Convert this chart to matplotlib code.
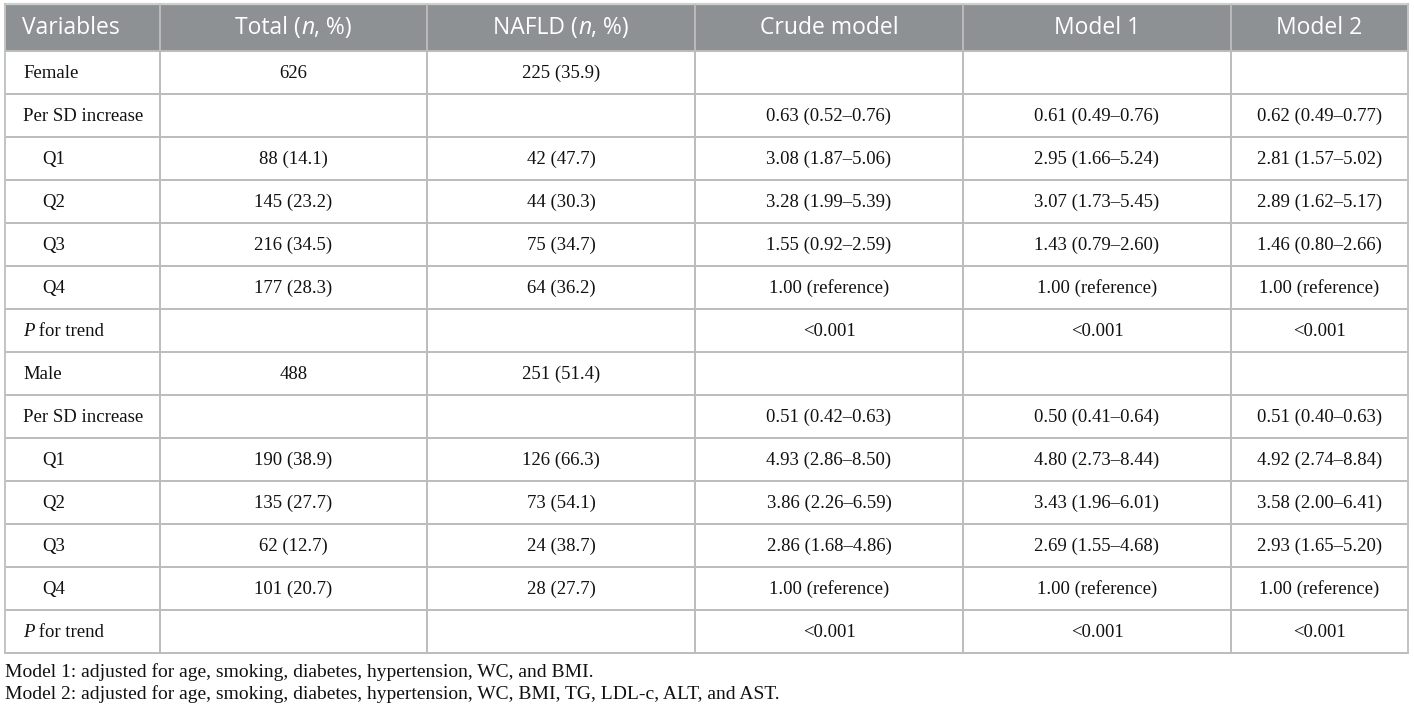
import matplotlib.pyplot as plt
from matplotlib.patches import Rectangle

# ---- table content ----
headers = [
    [("Variables", "normal")],
    [("Total (", "normal"), ("n", "italic"), (", %)", "normal")],
    [("NAFLD (", "normal"), ("n", "italic"), (", %)", "normal")],
    [("Crude model", "normal")],
    [("Model 1", "normal")],
    [("Model 2", "normal")],
]

variables = ["Female", "Per SD increase", "Q1", "Q2", "Q3", "Q4", "P for trend",
             "Male", "Per SD increase", "Q1", "Q2", "Q3", "Q4", "P for trend"]
total = ["626", "", "88 (14.1)", "145 (23.2)", "216 (34.5)", "177 (28.3)", "",
         "488", "", "190 (38.9)", "135 (27.7)", "62 (12.7)", "101 (20.7)", ""]
nafld = ["225 (35.9)", "", "42 (47.7)", "44 (30.3)", "75 (34.7)", "64 (36.2)", "",
         "251 (51.4)", "", "126 (66.3)", "73 (54.1)", "24 (38.7)", "28 (27.7)", ""]
crude = ["", "0.63 (0.52–0.76)", "3.08 (1.87–5.06)", "3.28 (1.99–5.39)",
         "1.55 (0.92–2.59)", "1.00 (reference)", "<0.001",
         "", "0.51 (0.42–0.63)", "4.93 (2.86–8.50)", "3.86 (2.26–6.59)",
         "2.86 (1.68–4.86)", "1.00 (reference)", "<0.001"]
model1 = ["", "0.61 (0.49–0.76)", "2.95 (1.66–5.24)", "3.07 (1.73–5.45)",
          "1.43 (0.79–2.60)", "1.00 (reference)", "<0.001",
          "", "0.50 (0.41–0.64)", "4.80 (2.73–8.44)", "3.43 (1.96–6.01)",
          "2.69 (1.55–4.68)", "1.00 (reference)", "<0.001"]
model2 = ["", "0.62 (0.49–0.77)", "2.81 (1.57–5.02)", "2.89 (1.62–5.17)",
          "1.46 (0.80–2.66)", "1.00 (reference)", "<0.001",
          "", "0.51 (0.40–0.63)", "4.92 (2.74–8.84)", "3.58 (2.00–6.41)",
          "2.93 (1.65–5.20)", "1.00 (reference)", "<0.001"]

footnotes = [
    "Model 1: adjusted for age, smoking, diabetes, hypertension, WC, and BMI.",
    "Model 2: adjusted for age, smoking, diabetes, hypertension, WC, BMI, TG, LDL-c, ALT, and AST.",
]

# ---- layout (pixel units) ----
W, H = 1414, 711
col_edges = [5, 160, 427, 695, 963, 1231, 1408]
head_top, head_bot = 4, 51
row_h = 43
n_rows = len(variables)
line_col = "#bcbcbc"
head_col = "#8e9194"
serif = ["Liberation Serif", "DejaVu Serif"]
sans = ["Open Sans", "DejaVu Sans"]
body_fs = 13.5
head_fs = 16.5
note_fs = 14

fig = plt.figure(figsize=(W / 100, H / 100), dpi=100)
ax = fig.add_axes([0, 0, 1, 1])
ax.set_xlim(0, W)
ax.set_ylim(H, 0)
ax.axis("off")
renderer = fig.canvas.get_renderer()


def draw_segments(x, y, segs, ha, fs, family, color, weight="normal"):
    items = []
    for s, style in segs:
        t = ax.text(0, y, s, fontsize=fs, family=family, fontstyle=style,
                    fontweight=weight, color=color, ha="left", va="center")
        w = t.get_window_extent(renderer).width
        items.append((t, w))
    total_w = sum(w for _, w in items)
    cur = x - total_w / 2 if ha == "center" else x
    for t, w in items:
        t.set_x(cur)
        cur += w


# header
ax.add_patch(Rectangle((col_edges[0], head_top), col_edges[-1] - col_edges[0],
                       head_bot - head_top, facecolor=head_col, edgecolor="none"))
ax.plot([col_edges[0], col_edges[-1]], [head_top, head_top], color="#c9d2ce", lw=1.6)
for j, segs in enumerate(headers):
    if j == 0:
        draw_segments(col_edges[0] + 17, (head_top + head_bot) / 2 + 1, segs, "left",
                      head_fs, sans, "white")
    else:
        cx = (col_edges[j] + col_edges[j + 1]) / 2
        draw_segments(cx, (head_top + head_bot) / 2 + 1, segs, "center",
                      head_fs, sans, "white")

# grid lines
bottom = head_bot + row_h * n_rows
for i in range(n_rows + 1):
    y = head_bot + row_h * i
    ax.plot([col_edges[0], col_edges[-1]], [y, y], color=line_col, lw=1.4)
for k, x in enumerate(col_edges):
    y0 = head_top if k in (0, len(col_edges) - 1) else head_top + 1
    c = line_col if 0 < k < len(col_edges) - 1 else "#c0c4c2"
    ax.plot([x, x], [y0, bottom], color=c, lw=1.4)

# body
columns = [total, nafld, crude, model1, model2]
for i, var in enumerate(variables):
    yc = head_bot + row_h * (i + 0.5) + 1
    if var.startswith("Q"):
        draw_segments(col_edges[0] + 37, yc, [(var, "normal")], "left", body_fs, serif, "#111111")
    elif var == "P for trend":
        draw_segments(col_edges[0] + 18, yc, [("P", "italic"), (" for trend", "normal")],
                      "left", body_fs, serif, "#111111")
    else:
        draw_segments(col_edges[0] + 18, yc, [(var, "normal")], "left", body_fs, serif, "#111111")
    for j, col in enumerate(columns):
        if col[i]:
            cx = (col_edges[j + 1] + col_edges[j + 2]) / 2
            ax.text(cx, yc, col[i], fontsize=body_fs, family=serif, color="#111111",
                    ha="center", va="center")

# footnotes
for k, note in enumerate(footnotes):
    ax.text(5, 672 + 22 * k, note, fontsize=note_fs, family=serif, color="#111111",
            ha="left", va="center")

fig.savefig("out.png", dpi=100, facecolor="white")
